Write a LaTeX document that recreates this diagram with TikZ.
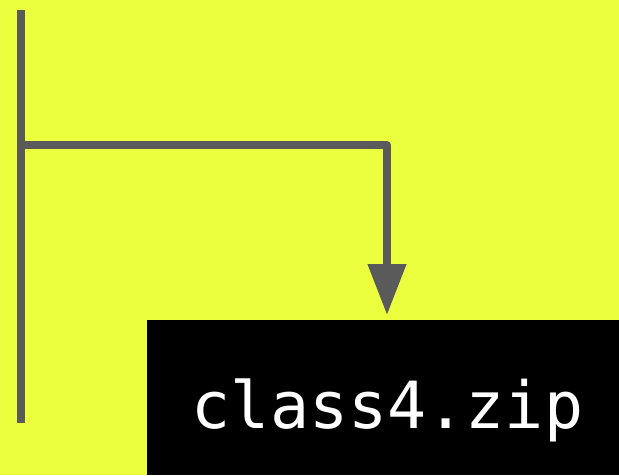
\documentclass[tikz,border=0pt]{standalone}
\usepackage{fontspec}
\newfontfamily\codefont{DejaVu Sans Mono}
\usetikzlibrary{arrows.meta}
\definecolor{bgyellow}{RGB}{235,255,63}
\definecolor{wire}{RGB}{90,90,90}
\tikzset{
  wireline/.style={draw=wire, line width=7.5pt},
  filebox/.style={fill=black, inner sep=0pt, anchor=north west,
                  minimum width=472pt, minimum height=155pt},
  filename/.style={text=white, font=\codefont\fontsize{65}{65}\selectfont,
                   anchor=base, inner sep=0pt},
}
\begin{document}
\begin{tikzpicture}[x=1pt,y=-1pt]
  % canvas
  \fill[bgyellow] (0,0) rectangle (619,475);
  \useasboundingbox (0,0) rectangle (619,475);

  % output file
  \node[filebox] (box) at (147,320) {};
  \node[filename] (name) at (387.5,428) {class4.zip};

  % trunk and branch
  \coordinate (top) at (21,10);
  \coordinate (bottom) at (21,423);
  \coordinate (branch) at (21,145);
  \coordinate (corner) at (387,145);
  \coordinate (tip) at (387,315);

  \draw[wireline] (top) -- (bottom);
  \draw[wireline, line join=round, -{Triangle[length=51pt,width=37pt]}]
    (branch) -- (corner) -- (tip);
\end{tikzpicture}
\end{document}
